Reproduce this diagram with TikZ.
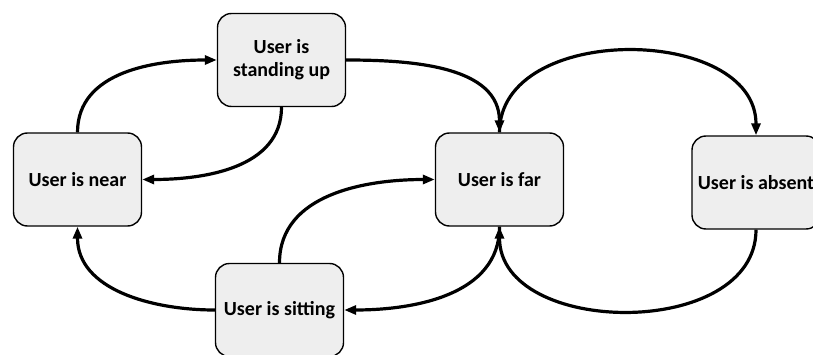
\documentclass[tikz,border=0pt]{standalone}
\usepackage{fontspec}
\setmainfont{Carlito}
\usetikzlibrary{arrows.meta}
\definecolor{boxfill}{HTML}{EEEEEE}
\tikzset{
  state/.style={draw=black, line width=1.4pt, fill=boxfill, rounded corners=14pt,
    minimum width=128pt, minimum height=93pt, align=center, inner sep=2pt,
    font=\bfseries\fontsize{20}{23}\selectfont},
  link/.style={line width=3.2pt, -{Triangle[length=12pt,width=9pt]}}
}
\begin{document}
\begin{tikzpicture}[x=1pt,y=1pt]
\useasboundingbox (0,0) rectangle (813,354);
\node[state] (stand) at (281.5,294) {User is\\standing up};
\node[state] (near) at (77.5,174.5) {User is near};
\node[state] (sit) at (279.5,44) {User is sitting};
\node[state] (far) at (499.5,174.5) {User is far};
\node[state] (absent) at (756,171.5) {User is absent};
\draw[link] (near.north) to[out=90,in=180] (stand.west);
\draw[link] (stand.south) to[out=-90,in=0] (near.east);
\draw[link] (stand.east) to[out=0,in=90] (far.north);
\draw[link] (far.north) to[out=90,in=90,looseness=1.1] (absent.north);
\draw[link] (absent.south) to[out=-90,in=-90,looseness=1.1] (far.south);
\draw[link] (far.south) to[out=-90,in=0] (sit.east);
\draw[link] (sit.north) to[out=90,in=180] (far.west);
\draw[link] (sit.west) to[out=180,in=-90] (near.south);
\end{tikzpicture}
\end{document}
